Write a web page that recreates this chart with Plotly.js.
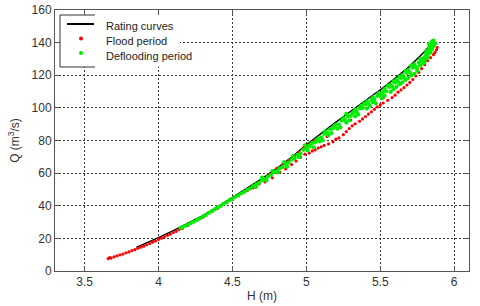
<!DOCTYPE html>
<html>
<head>
<meta charset="utf-8">
<script src="https://cdn.plot.ly/plotly-3.0.1.min.js"></script>
<style>html,body{margin:0;padding:0;background:#fff}#chart{width:480px;height:306px}</style>
</head>
<body>
<div id="chart"></div>
<script>
// Rating curve (black line)
var ratingH = [3.85, 3.90, 4.00, 4.10, 4.20, 4.30, 4.40, 4.50, 4.60, 4.70, 4.80, 4.90, 5.00, 5.10, 5.20, 5.30, 5.40, 5.50, 5.60, 5.70, 5.80, 5.84];
var ratingQ = [14.5, 16.4, 20.4, 24.8, 29.2, 34.0, 39.3, 44.9, 50.5, 56.6, 62.9, 69.7, 77.4, 84.5, 91.3, 97.9, 104.3, 111.1, 118.1, 125.6, 134.6, 138.8];

// Flood period (red points)
var floodH = [3.66, 3.67, 3.68, 3.70, 3.72, 3.74, 3.76, 3.78, 3.80, 3.82, 3.84, 3.86, 3.88, 3.90, 3.92, 3.94, 3.96, 3.98, 4.00, 4.02, 4.04, 4.06, 4.08, 4.10, 4.12, 4.14, 4.16,
  4.20, 4.30, 4.40, 4.50, 4.60,
  4.64, 4.68, 4.70, 4.72, 4.75, 4.77, 4.80, 4.82, 4.84, 4.86, 4.88, 4.90, 4.92, 4.93, 4.95, 4.96, 4.98, 4.99, 5.00,
  5.02, 5.04, 5.06, 5.08, 5.10, 5.12, 5.15, 5.18, 5.20, 5.22, 5.25, 5.27, 5.29, 5.31, 5.33, 5.36, 5.38, 5.40, 5.42, 5.44, 5.46, 5.48, 5.50, 5.52, 5.55, 5.58, 5.60, 5.62, 5.64, 5.66, 5.68, 5.70, 5.72, 5.74, 5.76, 5.78, 5.80, 5.82, 5.84, 5.86, 5.87, 5.88, 5.885,
  5.05, 5.14, 5.30, 5.52, 5.64, 5.80, 5.85, 5.86, 5.84];
var floodQ = [7.6, 8.2, 7.9, 8.7, 9.3, 9.9, 10.4, 11.2, 11.7, 12.5, 13.1, 13.9, 14.6, 15.2, 16.1, 16.8, 17.7, 18.4, 19.3, 20.1, 20.9, 21.9, 22.6, 23.6, 24.3, 25.4, 26.1,
  28.0, 33.0, 38.4, 43.8, 49.2,
  51.0, 53.4, 56.8, 54.6, 59.2, 57.1, 63.0, 60.4, 65.2, 62.6, 67.9, 65.3, 70.6, 67.4, 72.9, 69.8, 75.5, 71.6, 77.4,
  72.3, 73.6, 74.2, 75.4, 76.1, 77.0, 77.9, 79.2, 80.8, 81.6, 83.6, 85.5, 87.3, 89.0, 90.2, 91.8, 93.2, 94.7, 96.2, 97.6, 99.1, 100.6, 101.8, 103.0, 104.6, 106.3, 107.8, 109.6, 111.0, 112.4, 114.0, 115.6, 117.4, 119.6, 121.8, 124.0, 126.5, 128.9, 130.8, 132.6, 134.0, 135.6, 137.0,
  79.8, 82.4, 92.5, 106.2, 115.0, 129.6, 136.5, 139.2, 138.0];

// Deflooding period (green points)
var defloodH = [4.15, 4.16, 4.18, 4.20, 4.22, 4.24, 4.26, 4.28, 4.30, 4.32, 4.34, 4.36, 4.38, 4.40, 4.42, 4.44, 4.46, 4.48, 4.50, 4.52, 4.54, 4.56, 4.58, 4.60,
  4.62, 4.64, 4.66, 4.68, 4.70, 4.72, 4.74, 4.76, 4.78, 4.80, 4.82, 4.84, 4.86, 4.88, 4.90, 4.92, 4.94, 4.96, 4.98, 5.00,
  4.66, 4.70, 4.73, 4.77, 4.81, 4.85, 4.87, 4.91, 4.95, 4.99,
  5.02, 5.04, 5.06, 5.08, 5.10, 5.12, 5.14, 5.16, 5.18, 5.20, 5.22, 5.24, 5.26, 5.28, 5.30, 5.32, 5.34, 5.36, 5.38, 5.40, 5.42, 5.44, 5.46, 5.48, 5.50, 5.52, 5.54, 5.56, 5.58, 5.60, 5.62, 5.64, 5.66, 5.68, 5.70, 5.72, 5.74, 5.76, 5.78, 5.80, 5.81, 5.82, 5.83, 5.84, 5.85, 5.86,
  5.05, 5.11, 5.17, 5.23, 5.29, 5.27, 5.33, 5.37, 5.41, 5.45, 5.47, 5.51, 5.53, 5.57, 5.59, 5.61, 5.63, 5.65, 5.67, 5.69, 5.71, 5.73, 5.75, 5.77, 5.79, 5.82, 5.84, 5.85, 5.86, 5.83, 5.855, 5.865,
  5.01, 5.03, 5.07, 5.09, 5.13, 5.15, 5.19, 5.21, 5.25, 5.27, 5.31, 5.33, 5.35, 5.39, 5.41, 5.43, 5.45, 5.49, 5.51, 5.53, 5.55, 5.57, 5.59, 5.61, 5.63, 5.65, 5.67, 5.69, 5.71, 5.73, 5.75, 5.77, 5.79, 5.80, 5.81, 5.82, 5.83, 5.84, 5.85, 5.86, 5.87];
var defloodQ = [26.3, 26.9, 27.6, 28.4, 29.5, 30.2, 31.3, 32.2, 33.4, 34.3, 35.6, 36.5, 37.8, 38.9, 39.8, 41.2, 42.1, 43.4, 44.2, 45.5, 46.3, 47.6, 48.5, 49.8,
  50.6, 52.0, 53.1, 54.0, 55.6, 56.3, 57.9, 58.8, 60.6, 61.2, 62.9, 63.8, 65.6, 66.4, 68.3, 69.0, 71.2, 72.0, 74.3, 75.2,
  51.5, 57.2, 55.5, 61.3, 60.5, 66.8, 63.9, 70.4, 69.8, 77.1,
  76.5, 78.6, 78.9, 81.2, 82.0, 84.1, 84.8, 86.9, 87.4, 89.6, 89.9, 92.3, 92.6, 94.9, 95.1, 97.4, 97.6, 99.8, 99.9, 102.2, 102.5, 104.8, 105.0, 107.3, 107.6, 110.1, 110.2, 112.8, 113.0, 115.5, 116.0, 118.3, 118.9, 121.4, 121.8, 124.6, 125.2, 127.8, 128.7, 131.2, 132.6, 134.0, 135.5, 137.2, 138.8, 140.2,
  75.8, 80.2, 84.6, 88.1, 92.4, 96.3, 94.8, 101.2, 99.6, 106.4, 102.8, 105.9, 111.7, 109.8, 116.2, 112.9, 119.0, 115.7, 122.6, 118.4, 125.8, 120.9, 124.0, 129.9, 127.4, 130.5, 133.8, 136.0, 137.9, 139.1, 141.0, 139.0,
  74.0, 77.8, 80.3, 79.5, 85.6, 83.2, 89.0, 87.2, 93.8, 91.0, 96.5, 98.9, 96.0, 102.6, 104.0, 101.3, 103.5, 109.0, 108.6, 107.5, 113.6, 114.2, 111.4, 117.4, 114.6, 120.3, 117.2, 123.3, 120.0, 126.7, 122.7, 126.0, 130.0, 128.4, 134.8, 132.0, 137.0, 135.6, 140.5, 141.2, 139.6];

var xTicks = [3.5, 4, 4.5, 5, 5.5, 6];
var yTicks = [0, 20, 40, 60, 80, 100, 120, 140, 160];
var seriesNames = ['Rating curves', 'Flood period', 'Deflooding period'];
var seriesColors = ['#000000', '#ff0000', '#00ee00'];

var FONT = '"Liberation Sans", Arial, sans-serif';

var traces = [
  {x: ratingH, y: ratingQ, type: 'scatter', mode: 'lines', name: seriesNames[0],
   line: {color: seriesColors[0], width: 1.4}},
  {x: floodH, y: floodQ, type: 'scatter', mode: 'markers', name: seriesNames[1],
   marker: {color: seriesColors[1], size: 3.2}},
  {x: defloodH, y: defloodQ, type: 'scatter', mode: 'markers', name: seriesNames[2],
   marker: {color: seriesColors[2], size: 4.2}}
];

// plot area in pixels (for the hand-made legend box)
var L = 55, R = 469, T = 10, B = 271;
function px(x) { return (x - L) / (R - L); }
function py(y) { return (B - y) / (B - T); }

var shapes = [
  {type: 'rect', xref: 'paper', yref: 'paper', x0: px(60), x1: px(180), y0: py(67), y1: py(15),
   fillcolor: '#ffffff', line: {width: 0}, layer: 'above'},
  {type: 'line', xref: 'paper', yref: 'paper', x0: px(60), x1: px(60), y0: py(67), y1: py(15), line: {color: '#333', width: 1}, layer: 'above'},
  {type: 'line', xref: 'paper', yref: 'paper', x0: px(60), x1: px(95), y0: py(15), y1: py(15), line: {color: '#333', width: 1}, layer: 'above'},
  {type: 'line', xref: 'paper', yref: 'paper', x0: px(60), x1: px(95), y0: py(67), y1: py(67), line: {color: '#333', width: 1}, layer: 'above'},
  {type: 'line', xref: 'paper', yref: 'paper', x0: px(67), x1: px(94), y0: py(24), y1: py(24), line: {color: seriesColors[0], width: 2}, layer: 'above'},
  {type: 'circle', xref: 'paper', yref: 'paper', x0: px(79), x1: px(83), y0: py(40.5), y1: py(36.5), fillcolor: seriesColors[1], line: {width: 0}, layer: 'above'},
  {type: 'circle', xref: 'paper', yref: 'paper', x0: px(79), x1: px(83), y0: py(55), y1: py(51), fillcolor: seriesColors[2], line: {width: 0}, layer: 'above'}
];
var legendY = [26, 41, 56];
var annotations = seriesNames.map(function (n, i) {
  return {text: n, xref: 'paper', yref: 'paper', x: px(104), y: py(legendY[i]),
          xanchor: 'left', yanchor: 'middle', showarrow: false,
          font: {family: FONT, size: 11, color: '#222'}};
});

var axisCommon = {
  showline: true, linecolor: '#555', linewidth: 1, mirror: 'ticks',
  ticks: 'inside', ticklen: 5, tickcolor: '#555',
  showgrid: true, gridcolor: '#333', gridwidth: 1, griddash: '2px,2px',
  zeroline: false, tickfont: {family: FONT, size: 12, color: '#333'}
};

var layout = {
  width: 480, height: 306,
  margin: {l: L, r: 480 - R, t: T, b: 306 - B},
  paper_bgcolor: '#ffffff', plot_bgcolor: '#ffffff',
  showlegend: false,
  font: {family: FONT, size: 12, color: '#333'},
  xaxis: Object.assign({}, axisCommon, {
    range: [3.3, 6.1], tickvals: xTicks, ticktext: xTicks.map(String),
    title: {text: 'H (m)', font: {family: FONT, size: 12, color: '#333'}, standoff: 3}
  }),
  yaxis: Object.assign({}, axisCommon, {
    range: [0, 160], tickvals: yTicks, ticktext: yTicks.map(String),
    title: {text: 'Q (m<sup>3</sup>/s)', font: {family: FONT, size: 12, color: '#333'}, standoff: 9}
  }),
  shapes: shapes,
  annotations: annotations
};

Plotly.newPlot('chart', traces, layout, {displayModeBar: false, staticPlot: true});
</script>
</body>
</html>
